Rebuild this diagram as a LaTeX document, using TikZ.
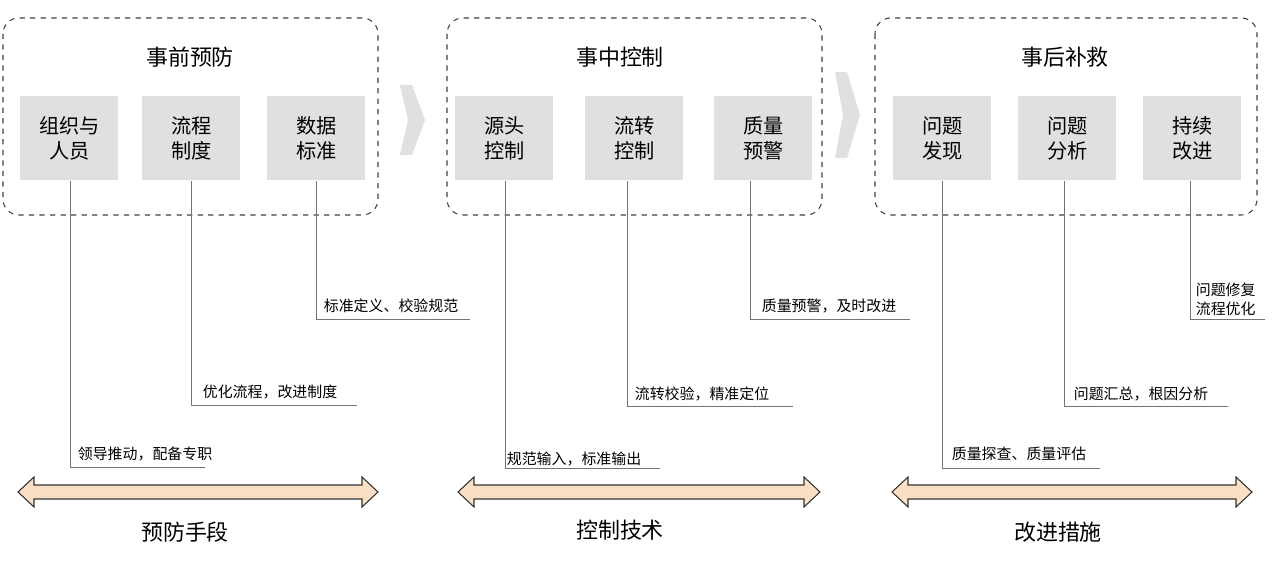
\documentclass[tikz,border=0pt]{standalone}
\usepackage{fontspec}
\setmainfont{Noto Sans CJK SC}
\usetikzlibrary{shapes.arrows}
\begin{document}
\begin{tikzpicture}[x=0.02cm,y=-0.02cm,
 panel/.style={draw=black!75,dashed,rounded corners=9pt,line width=0.6pt},
 box/.style={fill=black!12,minimum width=1.96cm,minimum height=1.68cm,inner sep=0pt,align=center,font=\fontsize{11.5}{14}\selectfont,anchor=north west},
 title/.style={font=\fontsize{12.5}{15}\selectfont},
 lab/.style={font=\fontsize{8.5}{11}\selectfont,anchor=south west,inner sep=2pt},
 ln/.style={draw=black!55,line width=0.5pt},
 chev/.style={fill=black!12,draw=none},
 darr/.style={fill=brown!30!orange!25,draw=black!80,line width=0.6pt},
 bot/.style={font=\fontsize{12.5}{15}\selectfont}]
\useasboundingbox (0,0) rectangle (1281,573);
\draw[panel] (3,18) rectangle (378,215);
\draw[panel] (447,18) rectangle (822,215);
\draw[panel] (875,18) rectangle (1257,215);
\node[title] (t1) at (190,57) {事前预防};
\node[title] (t2) at (620,57) {事中控制};
\node[title] (t3) at (1065,57) {事后补救};
\node[box] (a1) at (20,96) {组织与\\人员};
\node[box] (a2) at (142,96) {流程\\制度};
\node[box] (a3) at (267,96) {数据\\标准};
\node[box] (b1) at (455,96) {源头\\控制};
\node[box] (b2) at (585,96) {流转\\控制};
\node[box] (b3) at (714,96) {质量\\预警};
\node[box] (c1) at (893,96) {问题\\发现};
\node[box] (c2) at (1018,96) {问题\\分析};
\node[box] (c3) at (1143,96) {持续\\改进};
\fill[chev] (400,85) -- (412,85) -- (425,120) -- (412,155) -- (400,155) -- (408,120) -- cycle;
\fill[chev] (835,72) -- (847,72) -- (860,115) -- (847,158) -- (835,158) -- (843,115) -- cycle;
% connectors
\coordinate (e1) at (205,467); \draw[ln] (a1.south -| 70,0) |- (e1);
\node[lab] (l1) at (74,465) {领导推动，配备专职};
\coordinate (e2) at (357,405); \draw[ln] (a2.south -| 191,0) |- (e2);
\node[lab] (l2) at (199,403) {优化流程，改进制度};
\coordinate (e3) at (470,319); \draw[ln] (a3.south -| 316,0) |- (e3);
\node[lab] (l3) at (320,317) {标准定义、校验规范};
\coordinate (f1) at (660,468); \draw[ln] (b1.south -| 505,0) |- (f1);
\node[lab] (m1) at (503,470) {规范输入，标准输出};
\coordinate (f2) at (793,406); \draw[ln] (b2.south -| 627,0) |- (f2);
\node[lab] (m2) at (631,405) {流转校验，精准定位};
\coordinate (f3) at (910,319); \draw[ln] (b3.south -| 750,0) |- (f3);
\node[lab] (m3) at (758,317) {质量预警，及时改进};
\coordinate (g1) at (1100,468); \draw[ln] (c1.south -| 942,0) |- (g1);
\node[lab] (n1) at (948,465) {质量探查、质量评估};
\coordinate (g2) at (1228,406); \draw[ln] (c2.south -| 1064,0) |- (g2);
\node[lab] (n2) at (1070,405) {问题汇总，根因分析};
\coordinate (g3) at (1265,319); \draw[ln] (c3.south -| 1190,0) |- (g3);
\node[lab,align=left] (n3) at (1192,320) {问题修复\\流程优化};
% double arrows
\foreach \a/\b in {18/378,458/820,892/1252}{
\draw[darr] (\a,492) -- (\a+16,477) -- (\a+16,485) -- (\b-16,485) -- (\b-16,477) -- (\b,492) -- (\b-16,507) -- (\b-16,499) -- (\a+16,499) -- (\a+16,507) -- cycle;}
\node[bot] (d1) at (185,532) {预防手段};
\node[bot] (d2) at (620,530) {控制技术};
\node[bot] (d3) at (1058,532) {改进措施};
\end{tikzpicture}
\end{document}
